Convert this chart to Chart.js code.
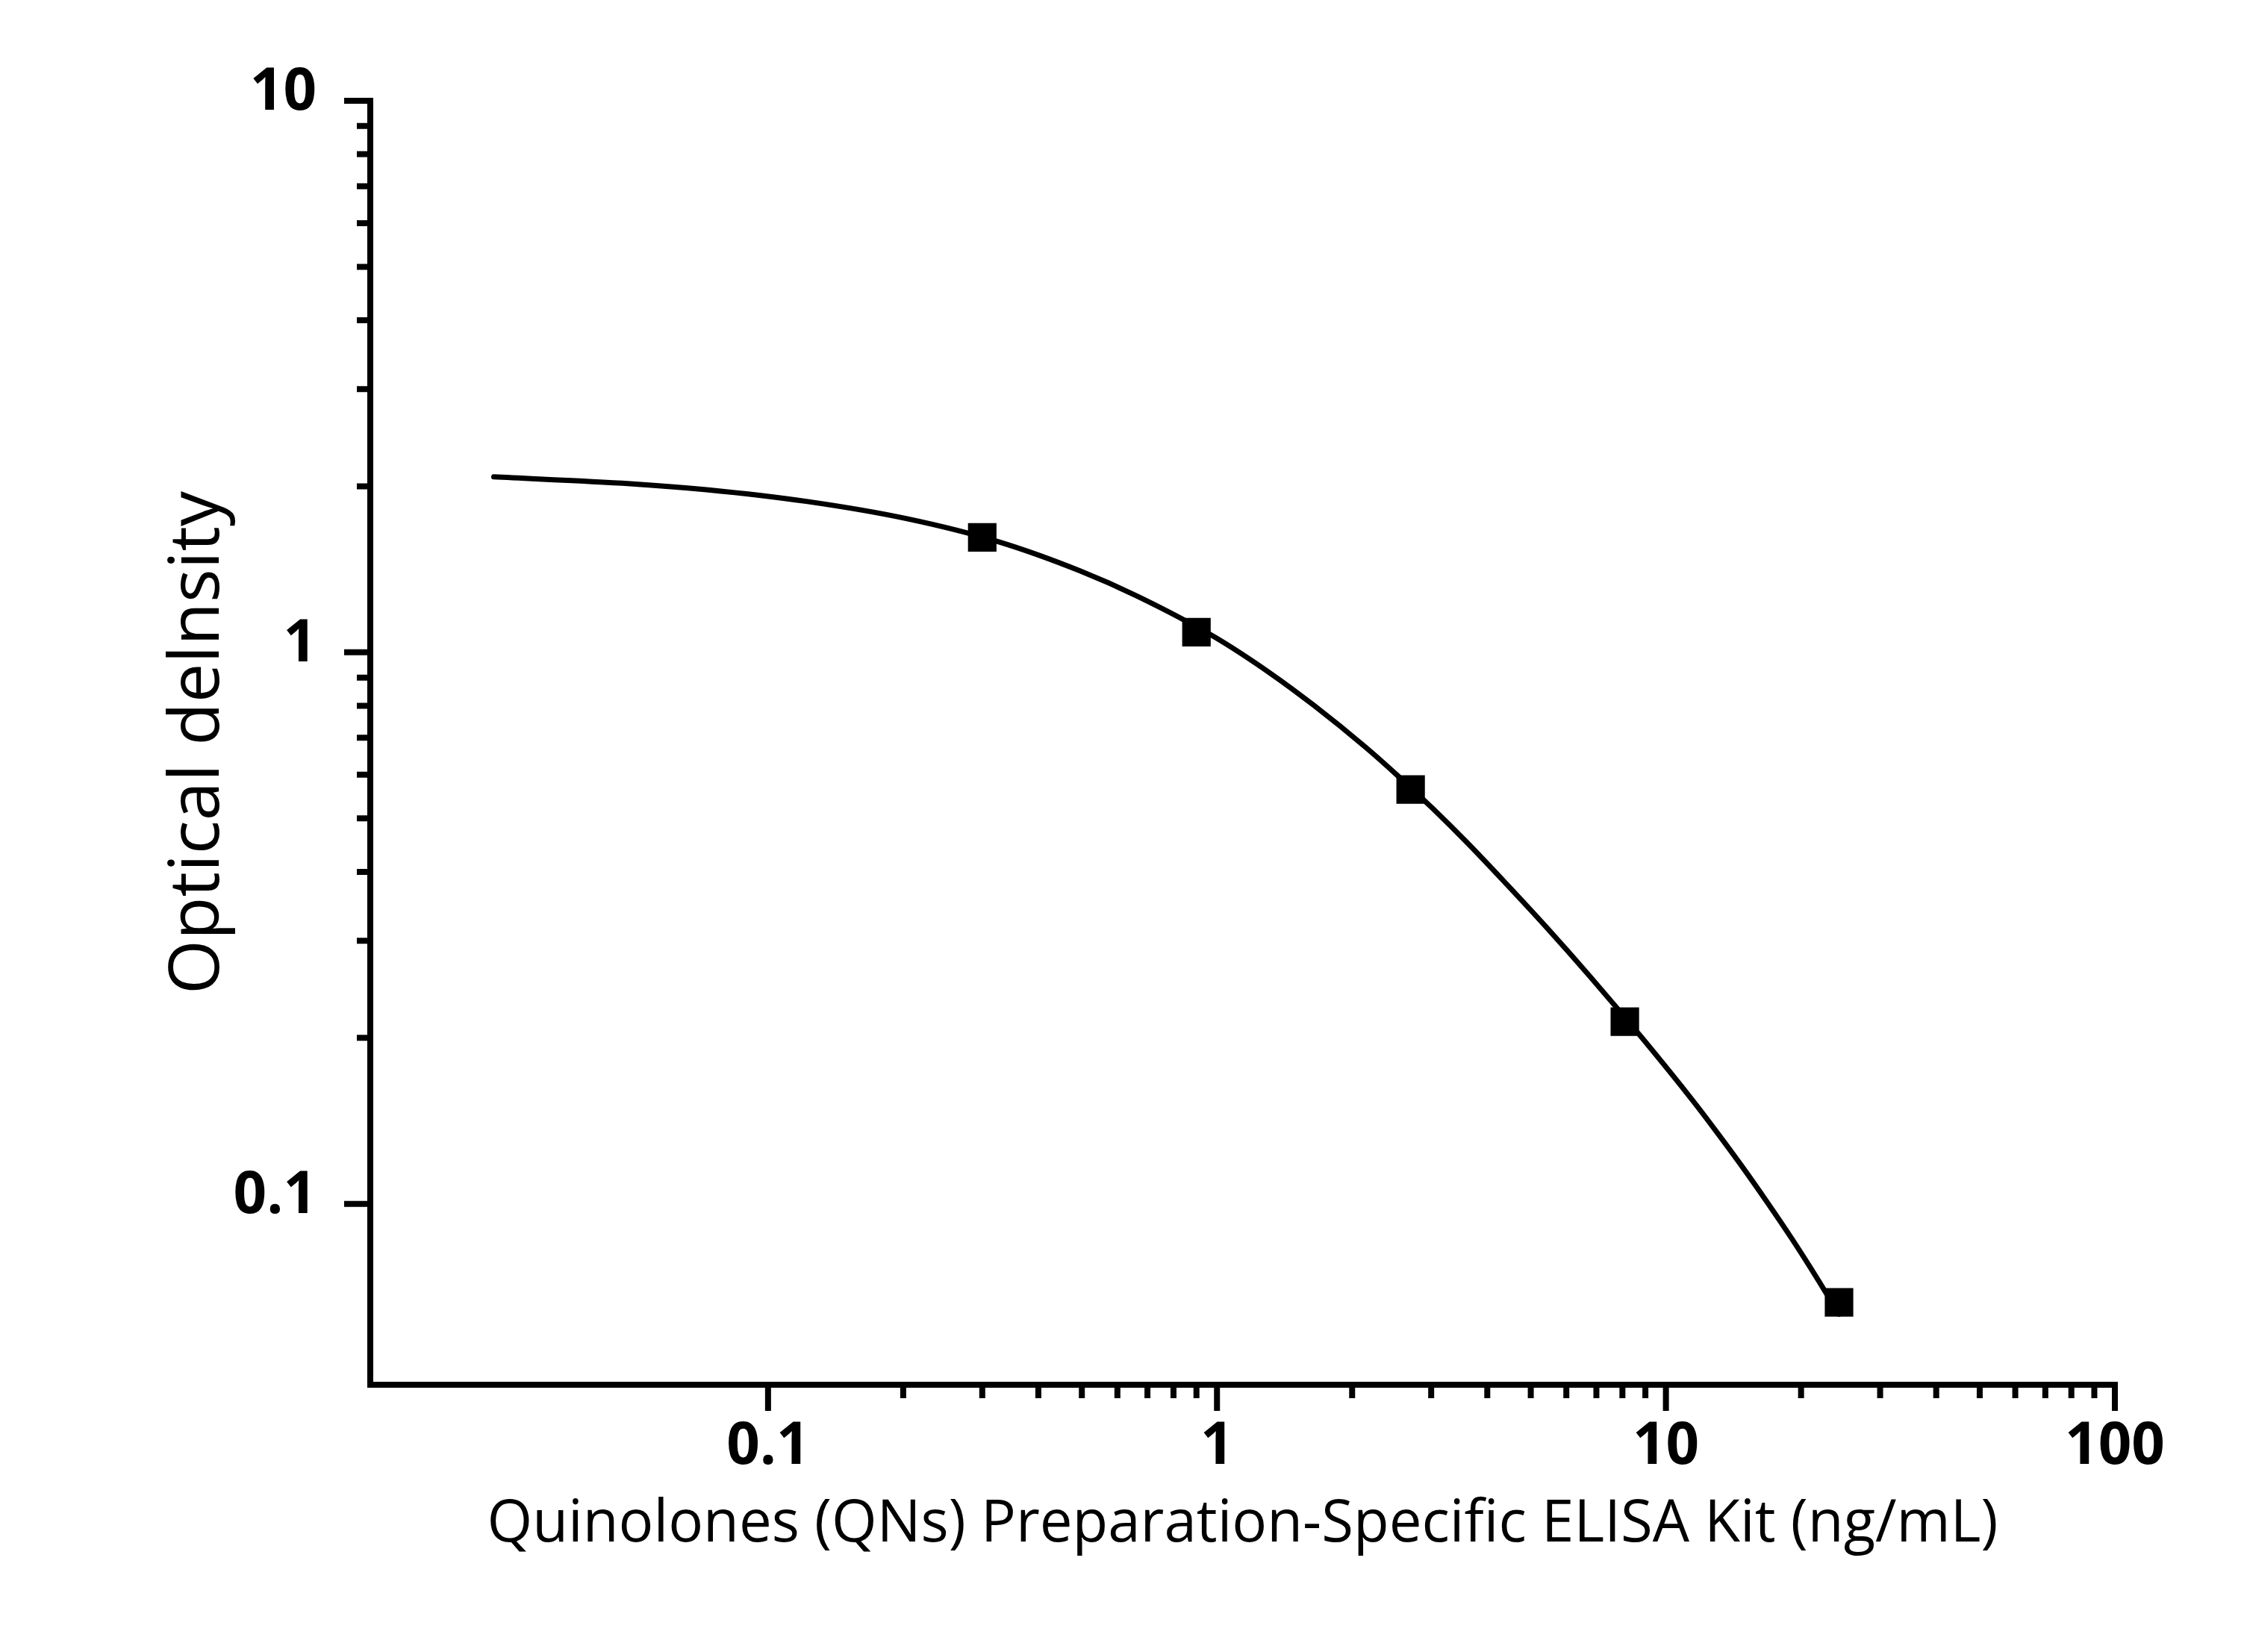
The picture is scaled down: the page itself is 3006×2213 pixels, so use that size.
<!DOCTYPE html>
<html>
<head>
<meta charset="utf-8">
<script src="https://cdn.jsdelivr.net/npm/chart.js@4.4.1/dist/chart.umd.min.js"></script>
<style>
html,body{margin:0;padding:0;background:#fff;}
#wrap{width:3006px;height:2213px;}
</style>
</head>
<body>
<div id="wrap"><canvas id="c" width="3006" height="2213"></canvas></div>
<script>
// ---- data ----
const standardConc = [0.3, 0.9, 2.7, 8.1, 24.3];
const standardOD   = [1.616, 1.088, 0.564, 0.214, 0.0663];

const curveConc = [0.0245, 0.0493, 0.0729, 0.1217, 0.2031, 0.3266, 0.4955, 0.6643, 0.986, 1.321, 1.645,
                   2.142, 2.516, 3.030, 3.594, 4.369, 5.441, 6.778, 8.882, 11.47, 13.02, 14.79, 16.81,
                   19.09, 21.01, 24.3];
const curveOD   = [2.080, 2.022, 1.972, 1.878, 1.748, 1.586, 1.405, 1.2645, 1.067, 0.9138, 0.8009,
                   0.6731, 0.5994, 0.5202, 0.4532, 0.3835, 0.3161, 0.2583, 0.1992, 0.1540, 0.1345, 0.1168, 0.1007,
                   0.0864, 0.0765, 0.0631];

const xTickValues = [0.1,0.2,0.3,0.4,0.5,0.6,0.7,0.8,0.9,1,2,3,4,5,6,7,8,9,10,20,30,40,50,60,70,80,90,100];
const xMajorTicks = [0.1, 1, 10, 100];
const xTickLabels = ['0.1', '1', '10', '100'];
const yTickValues = [0.1,0.2,0.3,0.4,0.5,0.6,0.7,0.8,0.9,1,2,3,4,5,6,7,8,9,10];
const yMajorTicks = [0.1, 1, 10];
const yTickLabels = ['0.1', '1', '10'];

const xTitle = 'Quinolones (QNs) Preparation-Specific ELISA Kit (ng/mL)';
const yTitle = 'Optical delnsity';

// ---- drawing ----
const axisPlugin = {
  id: 'originAxes',
  afterDraw(chart) {
    const ctx = chart.ctx, xs = chart.scales.x, ys = chart.scales.y, a = chart.chartArea;
    const lw = 8, major = 31, minor = 14;
    ctx.save();
    ctx.strokeStyle = '#000';
    ctx.lineCap = 'butt';
    ctx.lineWidth = lw;
    ctx.beginPath();
    ctx.moveTo(a.left, a.top - lw / 2);
    ctx.lineTo(a.left, a.bottom + lw / 2);
    ctx.moveTo(a.left - lw / 2, a.bottom);
    ctx.lineTo(a.right + lw / 2, a.bottom);
    ctx.stroke();
    ctx.lineWidth = 8;
    ctx.beginPath();
    yTickValues.forEach(v => {
      const py = ys.getPixelForValue(v);
      const len = yMajorTicks.includes(v) ? major : minor;
      ctx.moveTo(a.left - lw / 2, py);
      ctx.lineTo(a.left - lw / 2 - len, py);
    });
    xTickValues.forEach(v => {
      const px = xs.getPixelForValue(v);
      const len = xMajorTicks.includes(v) ? major : minor;
      ctx.moveTo(px, a.bottom + lw / 2);
      ctx.lineTo(px, a.bottom + lw / 2 + len);
    });
    ctx.stroke();
    ctx.restore();
  }
};

const tickFont = { family: 'Open Sans', size: 78, weight: 'bold' };

new Chart(document.getElementById('c'), {
  type: 'scatter',
  data: {
    datasets: [
      {
        label: 'Standards',
        data: standardConc.map((x, i) => ({ x, y: standardOD[i] })),
        pointStyle: 'rect',
        pointRadius: 27,
        pointBackgroundColor: '#000',
        pointBorderWidth: 0,
        showLine: false
      },
      {
        label: 'Fit',
        data: curveConc.map((x, i) => ({ x, y: curveOD[i] })),
        showLine: true,
        borderColor: '#000',
        borderWidth: 7,
        borderCapStyle: 'round',
        borderJoinStyle: 'round',
        cubicInterpolationMode: 'monotone',
        pointRadius: 0,
        fill: false
      }
    ]
  },
  options: {
    responsive: false,
    devicePixelRatio: 1,
    animation: false,
    layout: { padding: { left: 0, top: 135, right: 173, bottom: 0 } },
    plugins: { legend: { display: false }, tooltip: { enabled: false } },
    scales: {
      x: {
        type: 'logarithmic',
        position: 'bottom',
        min: 0.013,
        max: 100,
        grid: { display: false, drawTicks: false },
        border: { display: false },
        afterBuildTicks(scale) { scale.ticks = xTickValues.map(v => ({ value: v })); },
        afterFit(scale) { scale.height = 358; },
        ticks: {
          autoSkip: false, maxRotation: 0, minRotation: 0,
          padding: 37, color: '#000', font: tickFont,
          callback(v) { const k = xMajorTicks.indexOf(v); return k >= 0 ? xTickLabels[k] : ''; }
        },
        title: {
          display: true, text: xTitle, color: '#000',
          font: { family: 'Open Sans', size: 78 },
          padding: { top: 0, bottom: 123 }
        }
      },
      y: {
        type: 'logarithmic',
        position: 'left',
        min: 0.047,
        max: 10,
        grid: { display: false, drawTicks: false },
        border: { display: false },
        afterBuildTicks(scale) { scale.ticks = yTickValues.map(v => ({ value: v })); },
        afterFit(scale) { scale.width = 496; },
        ticks: {
          autoSkip: false, padding: 72, color: '#000', font: tickFont, labelOffset: -10,
          callback(v) { const k = yMajorTicks.indexOf(v); return k >= 0 ? yTickLabels[k] : ''; }
        },
        title: {
          display: true, text: yTitle, color: '#000',
          font: { family: 'Open Sans', size: 94 },
          padding: { top: 210, bottom: 0 }
        }
      }
    }
  },
  plugins: [axisPlugin]
});
</script>
</body>
</html>
